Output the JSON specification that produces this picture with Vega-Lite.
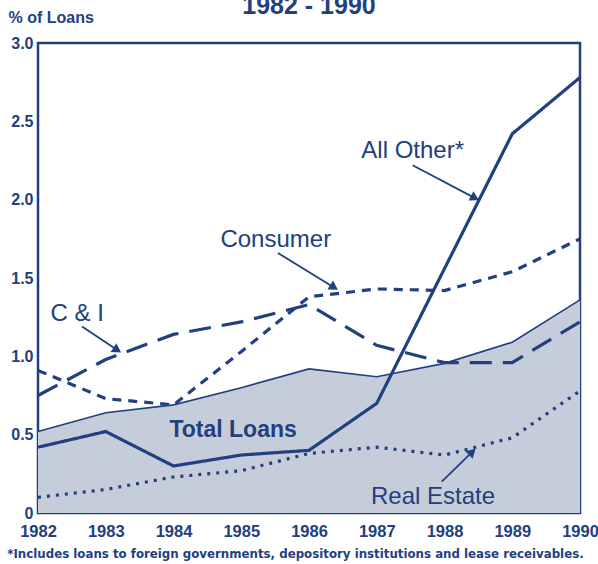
{
  "$schema": "https://vega.github.io/schema/vega-lite/v6.json",
  "width": 542,
  "height": 470,
  "autosize": {"type": "none"},
  "padding": {"left": 38, "top": 43, "right": 18, "bottom": 51},
  "background": "white",
  "config": {
    "font": "Liberation Sans",
    "view": {"stroke": "#22407f", "strokeWidth": 2.5},
    "axis": {"domain": false, "grid": false, "ticks": false, "labelColor": "#22407f", "labelFont": "Liberation Sans", "labelFontWeight": "bold", "labelFontSize": 16, "titleColor": "#22407f", "titleFont": "Liberation Sans"}
  },
  "title": {"text": "1982 - 1990", "fontSize": 25, "fontWeight": "bold", "color": "#22407f", "anchor": "middle", "frame": "group", "baseline": "alphabetic", "offset": 0, "dy": 30},
  "datasets": {
    "series": [
      {"year": 1982, "series": "Total Loans", "value": 0.52},
      {"year": 1983, "series": "Total Loans", "value": 0.64},
      {"year": 1984, "series": "Total Loans", "value": 0.69},
      {"year": 1985, "series": "Total Loans", "value": 0.80},
      {"year": 1986, "series": "Total Loans", "value": 0.92},
      {"year": 1987, "series": "Total Loans", "value": 0.87},
      {"year": 1988, "series": "Total Loans", "value": 0.955},
      {"year": 1989, "series": "Total Loans", "value": 1.09},
      {"year": 1990, "series": "Total Loans", "value": 1.36},
      {"year": 1982, "series": "All Other", "value": 0.42},
      {"year": 1983, "series": "All Other", "value": 0.52},
      {"year": 1984, "series": "All Other", "value": 0.30},
      {"year": 1985, "series": "All Other", "value": 0.37},
      {"year": 1986, "series": "All Other", "value": 0.40},
      {"year": 1987, "series": "All Other", "value": 0.70},
      {"year": 1988, "series": "All Other", "value": 1.56},
      {"year": 1989, "series": "All Other", "value": 2.42},
      {"year": 1990, "series": "All Other", "value": 2.78},
      {"year": 1982, "series": "Consumer", "value": 0.91},
      {"year": 1983, "series": "Consumer", "value": 0.73},
      {"year": 1984, "series": "Consumer", "value": 0.69},
      {"year": 1985, "series": "Consumer", "value": 1.03},
      {"year": 1986, "series": "Consumer", "value": 1.38},
      {"year": 1987, "series": "Consumer", "value": 1.43},
      {"year": 1988, "series": "Consumer", "value": 1.42},
      {"year": 1989, "series": "Consumer", "value": 1.54},
      {"year": 1990, "series": "Consumer", "value": 1.75},
      {"year": 1982, "series": "C & I", "value": 0.75},
      {"year": 1983, "series": "C & I", "value": 0.98},
      {"year": 1984, "series": "C & I", "value": 1.14},
      {"year": 1985, "series": "C & I", "value": 1.22},
      {"year": 1986, "series": "C & I", "value": 1.33},
      {"year": 1987, "series": "C & I", "value": 1.07},
      {"year": 1988, "series": "C & I", "value": 0.96},
      {"year": 1989, "series": "C & I", "value": 0.96},
      {"year": 1990, "series": "C & I", "value": 1.22},
      {"year": 1982, "series": "Real Estate", "value": 0.10},
      {"year": 1983, "series": "Real Estate", "value": 0.15},
      {"year": 1984, "series": "Real Estate", "value": 0.23},
      {"year": 1985, "series": "Real Estate", "value": 0.27},
      {"year": 1986, "series": "Real Estate", "value": 0.38},
      {"year": 1987, "series": "Real Estate", "value": 0.42},
      {"year": 1988, "series": "Real Estate", "value": 0.37},
      {"year": 1989, "series": "Real Estate", "value": 0.48},
      {"year": 1990, "series": "Real Estate", "value": 0.78}
    ],
    "labels": [
      {"label": "All Other*", "x": 1987.53, "y": 2.31},
      {"label": "Consumer", "x": 1985.51, "y": 1.745},
      {"label": "C & I", "x": 1982.58, "y": 1.27},
      {"label": "Real Estate", "x": 1987.83, "y": 0.10}
    ],
    "bold": [
      {"label": "Total Loans", "x": 1984.88, "y": 0.53}
    ],
    "arrows": [
      {"label": "All Other*", "x": 1987.53, "y": 2.22, "x2": 1988.45, "y2": 2.01},
      {"label": "Consumer", "x": 1985.54, "y": 1.66, "x2": 1986.37, "y2": 1.44},
      {"label": "C & I", "x": 1982.65, "y": 1.19, "x2": 1983.17, "y2": 1.04},
      {"label": "Real Estate", "x": 1987.96, "y": 0.20, "x2": 1988.41, "y2": 0.39}
    ]
  },
  "layer": [
    {
      "data": {"name": "series"},
      "transform": [{"filter": "datum.series === 'Total Loans'"}],
      "mark": {"type": "area", "color": "#c6cdda", "opacity": 1, "line": {"color": "#22407f", "strokeWidth": 1.6}},
      "encoding": {
        "x": {"field": "year", "type": "quantitative", "scale": {"domain": [1982, 1990], "nice": false, "zero": false},
          "axis": {"values": [1982, 1983, 1984, 1985, 1986, 1987, 1988, 1989, 1990], "format": "d", "labelFlush": false, "labelOverlap": false, "labelPadding": 10, "labelFontSize": 16.5,
            "title": "*Includes loans to foreign governments, depository institutions and lease receivables.", "titleFont": "DejaVu Sans", "titleFontSize": 11.8, "titleFontWeight": "bold", "titleX": 257, "titleY": 44, "titleAnchor": null, "titleAlign": "center", "titleBaseline": "alphabetic"}},
        "y": {"field": "value", "type": "quantitative", "scale": {"domain": [0, 3], "nice": false},
          "axis": {"values": [0, 0.5, 1, 1.5, 2, 2.5, 3], "labelExpr": "datum.value === 0 ? '0' : format(datum.value, '.1f')", "labelPadding": 5, "labelFlush": false,
            "title": "% of Loans", "titleAngle": 0, "titleAlign": "left", "titleX": -30, "titleY": -21, "titleFontSize": 16, "titleFontWeight": "bold", "titleBaseline": "alphabetic", "titleAnchor": null}}
      }
    },
    {
      "data": {"name": "series"},
      "transform": [{"filter": "datum.series !== 'Total Loans'"}],
      "mark": {"type": "line", "color": "#22407f", "strokeWidth": 3.2},
      "encoding": {
        "x": {"field": "year", "type": "quantitative"},
        "y": {"field": "value", "type": "quantitative"},
        "detail": {"field": "series"},
        "strokeDash": {"field": "series", "type": "nominal", "legend": null,
          "scale": {"domain": ["All Other", "Consumer", "C & I", "Real Estate"], "range": [[1, 0], [9, 7], [22, 11], [3, 6]]}}
      }
    },
    {
      "data": {"name": "labels"},
      "mark": {"type": "text", "color": "#22407f", "fontSize": 24, "align": "center", "baseline": "middle"},
      "encoding": {
        "x": {"field": "x", "type": "quantitative"},
        "y": {"field": "y", "type": "quantitative"},
        "text": {"field": "label"}
      }
    },
    {
      "data": {"name": "bold"},
      "mark": {"type": "text", "color": "#22407f", "fontSize": 23, "fontWeight": "bold", "align": "center", "baseline": "middle"},
      "encoding": {
        "x": {"field": "x", "type": "quantitative"},
        "y": {"field": "y", "type": "quantitative"},
        "text": {"field": "label"}
      }
    },
    {
      "data": {"name": "arrows"},
      "mark": {"type": "rule", "color": "#22407f", "strokeWidth": 1.8},
      "encoding": {
        "x": {"field": "x", "type": "quantitative"},
        "y": {"field": "y", "type": "quantitative"},
        "x2": {"field": "x2"},
        "y2": {"field": "y2"}
      }
    },
    {
      "data": {"name": "arrows"},
      "transform": [{"calculate": "atan2((datum.x2 - datum.x) * 67.75, (datum.y2 - datum.y) * 156.7) * 180 / PI", "as": "ang"}],
      "mark": {"type": "point", "shape": "triangle-up", "filled": true, "color": "#22407f", "size": 110, "opacity": 1},
      "encoding": {
        "x": {"field": "x2", "type": "quantitative"},
        "y": {"field": "y2", "type": "quantitative"},
        "angle": {"field": "ang", "type": "quantitative", "scale": null}
      }
    }
  ]
}
